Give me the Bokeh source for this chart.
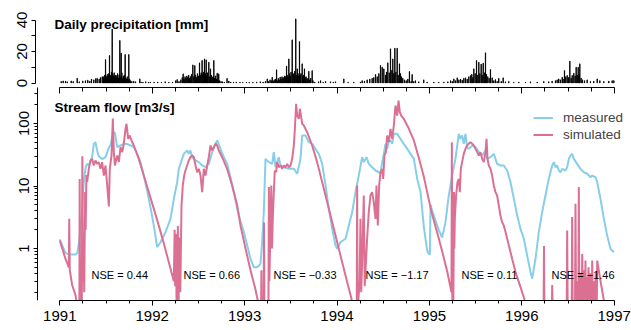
from bokeh.plotting import figure
from bokeh.models import (ColumnDataSource, Range1d, LinearAxis, FixedTicker,
                          BasicTickFormatter, Legend, LegendItem, Label, LinearScale)
from bokeh.core.properties import value
from bokeh.embed import file_html
from bokeh.resources import INLINE

# ---------------- data ----------------
year_ticks = [1991, 1992, 1993, 1994, 1995, 1996, 1997]
flow_ticks = [1, 10, 100]
precip_ticks = [0, 10, 20, 30, 40]

precip_year = [
    1991.015, 1991.036, 1991.062, 1991.080, 1991.123, 1991.145, 1991.188, 1991.210, 1991.249, 1991.278,
    1991.303, 1991.325, 1991.343, 1991.368, 1991.389, 1991.404, 1991.426, 1991.440, 1991.459, 1991.470,
    1991.478, 1991.486, 1991.495, 1991.500, 1991.508, 1991.515, 1991.522, 1991.530, 1991.538, 1991.545,
    1991.552, 1991.560, 1991.567, 1991.574, 1991.580, 1991.588, 1991.595, 1991.603, 1991.610, 1991.618,
    1991.626, 1991.634, 1991.642, 1991.650, 1991.657, 1991.664, 1991.672, 1991.680, 1991.688, 1991.695,
    1991.700, 1991.707, 1991.715, 1991.722, 1991.730, 1991.738, 1991.747, 1991.755, 1991.765, 1991.780,
    1991.800, 1991.820, 1991.866, 1991.880, 1991.900, 1991.930, 1991.960, 1991.980,
    1992.020, 1992.060, 1992.100, 1992.140, 1992.180, 1992.220, 1992.255, 1992.270, 1992.290, 1992.310,
    1992.325, 1992.335, 1992.345, 1992.355, 1992.365, 1992.375, 1992.385, 1992.395, 1992.405, 1992.415,
    1992.425, 1992.440, 1992.450, 1992.461, 1992.470, 1992.480, 1992.490, 1992.500, 1992.512, 1992.520,
    1992.530, 1992.540, 1992.550, 1992.558, 1992.566, 1992.575, 1992.584, 1992.592, 1992.600, 1992.613,
    1992.620, 1992.631, 1992.640, 1992.650, 1992.658, 1992.667, 1992.675, 1992.685, 1992.695, 1992.703,
    1992.712, 1992.720, 1992.730, 1992.745, 1992.760, 1992.780, 1992.810, 1992.830, 1992.850, 1992.880,
    1992.910, 1992.950, 1992.980,
    1993.020, 1993.050, 1993.090, 1993.130, 1993.170, 1993.200, 1993.225, 1993.245, 1993.260, 1993.275,
    1993.290, 1993.299, 1993.310, 1993.320, 1993.333, 1993.346, 1993.355, 1993.365, 1993.375, 1993.385,
    1993.395, 1993.405, 1993.415, 1993.425, 1993.435, 1993.445, 1993.454, 1993.460, 1993.470, 1993.479,
    1993.487, 1993.495, 1993.503, 1993.515, 1993.525, 1993.535, 1993.543, 1993.554, 1993.562, 1993.570,
    1993.578, 1993.586, 1993.594, 1993.602, 1993.610, 1993.623, 1993.630, 1993.638, 1993.648, 1993.656,
    1993.665, 1993.675, 1993.685, 1993.695, 1993.705, 1993.715, 1993.731, 1993.740, 1993.760, 1993.800,
    1993.822, 1993.850, 1993.876, 1993.930, 1993.960, 1993.984,
    1994.074, 1994.120, 1994.182, 1994.254, 1994.272, 1994.297, 1994.326, 1994.355, 1994.380, 1994.398,
    1994.417, 1994.435, 1994.453, 1994.471, 1994.489, 1994.507, 1994.525, 1994.536, 1994.550, 1994.565,
    1994.579, 1994.594, 1994.604, 1994.615, 1994.626, 1994.637, 1994.651, 1994.662, 1994.676, 1994.687,
    1994.698, 1994.712, 1994.731, 1994.749, 1994.767, 1994.784, 1994.802, 1994.813, 1994.831, 1994.849,
    1994.885, 1994.939, 1994.975,
    1995.048, 1995.102, 1995.157, 1995.200, 1995.229, 1995.247, 1995.265, 1995.283, 1995.301, 1995.319,
    1995.337, 1995.355, 1995.373, 1995.391, 1995.409, 1995.427, 1995.445, 1995.459, 1995.470, 1995.481,
    1995.495, 1995.510, 1995.524, 1995.535, 1995.546, 1995.560, 1995.571, 1995.582, 1995.596, 1995.607,
    1995.618, 1995.632, 1995.647, 1995.661, 1995.679, 1995.697, 1995.715, 1995.733, 1995.751, 1995.777,
    1995.798, 1995.823, 1995.859, 1995.913, 1995.968,
    1996.040, 1996.094, 1996.166, 1996.238, 1996.292, 1996.328, 1996.364, 1996.382, 1996.400, 1996.418,
    1996.437, 1996.447, 1996.462, 1996.476, 1996.491, 1996.505, 1996.520, 1996.534, 1996.545, 1996.563,
    1996.577, 1996.588, 1996.599, 1996.610, 1996.621, 1996.628, 1996.642, 1996.657, 1996.679, 1996.707,
    1996.743, 1996.779, 1996.816, 1996.845, 1996.888, 1996.942, 1996.978, 1996.996,
]
precip_mm = [
    1.0, 1.3, 1.2, 0.8, 1.3, 1.0, 3.0, 0.8, 1.3, 1.5,
    1.8, 1.2, 2.5, 2.0, 2.8, 3.0, 2.5, 3.5, 4.0, 4.0,
    3.0, 5.0, 14.9, 4.5, 3.8, 5.5, 4.2, 6.0, 17.5, 5.0,
    4.0, 7.0, 34.2, 5.5, 4.5, 6.5, 4.0, 5.0, 3.5, 4.8,
    6.0, 3.2, 5.0, 27.0, 4.0, 19.0, 6.5, 3.0, 4.5, 3.5,
    5.0, 18.1, 3.0, 2.5, 4.0, 2.0, 18.1, 2.5, 1.5, 1.0,
    1.2, 0.8, 2.6, 0.6, 0.5, 0.8, 0.5, 0.6,
    0.5, 0.6, 0.4, 0.8, 0.5, 0.6, 1.5, 2.2, 1.0, 2.0,
    3.5, 5.8, 2.5, 4.0, 3.0, 4.5, 3.5, 5.0, 3.0, 4.0,
    5.5, 11.5, 4.0, 11.1, 5.0, 3.5, 6.0, 4.5, 12.8, 5.0,
    6.5, 14.3, 5.5, 7.0, 15.3, 6.0, 14.7, 5.0, 6.5, 13.2,
    4.0, 9.0, 5.0, 3.5, 4.0, 14.3, 3.0, 4.5, 2.5, 6.2,
    2.0, 5.8, 1.5, 1.0, 0.8, 0.5, 2.9, 1.2, 0.6, 0.5,
    0.6, 0.5, 0.4,
    0.4, 0.5, 0.5, 0.6, 0.8, 0.6, 1.0, 2.6, 1.0, 2.0,
    1.5, 3.7, 1.2, 2.0, 2.5, 8.4, 1.5, 3.0, 2.0, 3.8,
    2.5, 4.0, 3.0, 3.5, 4.5, 4.0, 10.7, 5.0, 4.0, 15.3,
    6.0, 4.5, 7.0, 27.4, 6.0, 5.5, 7.5, 40.7, 5.0, 9.0,
    6.0, 4.5, 26.3, 5.0, 6.0, 12.2, 4.0, 5.0, 9.0, 3.5,
    4.0, 2.5, 3.0, 7.5, 2.0, 3.0, 7.9, 1.5, 0.6, 0.8,
    1.5, 0.5, 1.0, 0.8, 0.5, 0.8,
    2.6, 0.5, 0.5, 0.6, 1.5, 1.2, 2.0, 2.5, 3.0, 3.5,
    5.4, 4.0, 6.0, 11.1, 10.0, 9.0, 5.0, 7.0, 12.8, 6.5,
    21.7, 8.0, 15.3, 6.0, 22.1, 7.0, 22.1, 5.0, 12.2, 6.0,
    4.0, 3.0, 2.0, 1.5, 2.5, 7.3, 1.0, 5.4, 1.0, 1.5,
    0.8, 2.0, 0.6,
    0.6, 0.5, 0.6, 0.8, 1.5, 1.0, 2.6, 1.5, 3.3, 2.0,
    2.5, 1.8, 3.0, 3.3, 2.5, 4.0, 4.8, 5.5, 3.5, 9.0,
    6.0, 14.3, 5.0, 13.2, 6.0, 12.0, 5.0, 12.6, 6.5, 19.2,
    5.5, 4.0, 3.0, 8.6, 3.3, 1.5, 2.2, 1.0, 3.0, 1.0,
    3.3, 0.8, 1.0, 0.5, 0.6,
    0.5, 0.8, 0.6, 1.0, 0.8, 1.2, 1.5, 2.0, 2.6, 2.0,
    3.7, 2.5, 7.9, 4.0, 4.8, 3.5, 13.9, 3.0, 4.8, 6.2,
    4.5, 10.0, 5.0, 10.0, 5.5, 12.2, 3.0, 2.0, 1.5, 2.0,
    1.0, 1.2, 2.6, 1.5, 1.0, 1.2, 1.5, 1.5,
]

meas_year = [
    1991.000, 1991.060, 1991.100, 1991.170, 1991.190, 1991.210, 1991.240, 1991.260, 1991.280, 1991.296,
    1991.314, 1991.350, 1991.368, 1991.386, 1991.404, 1991.422, 1991.458, 1991.495, 1991.531, 1991.549,
    1991.574, 1991.596, 1991.621, 1991.657, 1991.693, 1991.729, 1991.765, 1991.801, 1991.837, 1991.873,
    1991.909, 1991.945, 1991.981, 1992.018, 1992.054, 1992.090, 1992.144, 1992.198, 1992.234, 1992.270,
    1992.288, 1992.324, 1992.342, 1992.378, 1992.396, 1992.414, 1992.433, 1992.469, 1992.505, 1992.541,
    1992.577, 1992.613, 1992.649, 1992.685, 1992.703, 1992.739, 1992.775, 1992.811, 1992.847, 1992.883,
    1992.920, 1992.956, 1992.992, 1993.028, 1993.064, 1993.100, 1993.136, 1993.172, 1993.190, 1993.208,
    1993.226, 1993.262, 1993.298, 1993.316, 1993.334, 1993.370, 1993.389, 1993.425, 1993.479, 1993.533,
    1993.569, 1993.605, 1993.623, 1993.659, 1993.695, 1993.731, 1993.767, 1993.803, 1993.840, 1993.876,
    1993.912, 1993.948, 1993.984, 1994.002, 1994.038, 1994.092, 1994.128, 1994.164, 1994.200, 1994.236,
    1994.272, 1994.290, 1994.319, 1994.344, 1994.380, 1994.417, 1994.453, 1994.471, 1994.489, 1994.507,
    1994.525, 1994.543, 1994.561, 1994.579, 1994.597, 1994.615, 1994.651, 1994.687, 1994.723, 1994.760,
    1994.796, 1994.832, 1994.868, 1994.904, 1994.940, 1994.976, 1994.994, 1995.005, 1995.012, 1995.030,
    1995.066, 1995.100, 1995.138, 1995.174, 1995.210, 1995.246, 1995.282, 1995.318, 1995.336, 1995.354,
    1995.372, 1995.390, 1995.408, 1995.426, 1995.463, 1995.499, 1995.535, 1995.571, 1995.607, 1995.625,
    1995.661, 1995.697, 1995.733, 1995.769, 1995.805, 1995.842, 1995.878, 1995.914, 1995.950, 1995.986,
    1996.022, 1996.058, 1996.094, 1996.112, 1996.148, 1996.184, 1996.220, 1996.256, 1996.292, 1996.329,
    1996.347, 1996.365, 1996.383, 1996.401, 1996.419, 1996.437, 1996.473, 1996.491, 1996.509, 1996.527,
    1996.545, 1996.563, 1996.599, 1996.635, 1996.671, 1996.708, 1996.744, 1996.762, 1996.798, 1996.816,
    1996.852, 1996.888, 1996.924, 1996.960, 1996.996,
]
meas_flow = [
    1.40, 0.85, 0.80, 0.80, 0.85, 1.30, 3.8, 12.0, 20.0, 22.6,
    21.3, 28.9, 47.0, 50.0, 37.0, 30.0, 27.0, 29.0, 41.0, 45.0,
    68.0, 72.0, 41.8, 44.5, 47.0, 47.0, 44.5, 41.8, 32.7, 24.0,
    14.7, 8.5, 4.6, 2.3, 1.05, 1.26, 1.83, 2.98, 6.2, 11.5,
    18.8, 27.2, 32.7, 37.0, 32.7, 37.0, 28.9, 25.6, 24.1, 21.3,
    20.0, 22.6, 34.8, 47.3, 53.5, 39.3, 28.9, 22.6, 13.8, 8.0,
    4.3, 2.7, 1.83, 1.12, 0.68, 0.50, 0.50, 0.57, 1.26, 3.8,
    27.2, 24.1, 22.6, 34.8, 20.0, 28.9, 21.3, 20.0, 18.8, 18.8,
    15.7, 27.2, 64.3, 64.3, 50.3, 47.3, 39.3, 32.7, 22.6, 10.2,
    4.3, 2.06, 1.12, 0.99, 1.26, 1.43, 2.33, 3.8, 8.0, 14.7,
    28.9, 24.1, 28.9, 22.6, 20.0, 17.7, 16.6, 15.7, 24.1, 32.7,
    47.3, 39.3, 53.5, 53.5, 47.3, 68.3, 68.3, 56.8, 47.3, 39.3,
    32.7, 27.2, 13.0, 8.0, 2.2, 0.93, 0.82, 0.80, 5.0, 4.0,
    2.8, 2.0, 1.5, 2.64, 7.05, 14.7, 27.2, 68.3, 56.8, 64.3,
    47.3, 68.3, 41.8, 39.3, 44.5, 41.8, 34.8, 30.8, 37.0, 27.2,
    28.9, 32.7, 22.6, 21.3, 21.3, 17.7, 11.5, 6.23, 3.37, 2.06,
    1.43, 0.77, 0.42, 0.33, 0.68, 1.83, 3.81, 7.05, 13.0, 21.3,
    24.1, 20.0, 21.3, 17.7, 16.6, 18.8, 17.7, 20.0, 27.2, 30.8,
    32.7, 27.2, 22.6, 18.8, 16.6, 15.7, 13.8, 14.7, 13.8, 11.5,
    6.2, 2.98, 1.61, 0.99, 0.87,
]

sim_year = [
    1991.000, 1991.062, 1991.098, 1991.102, 1991.108, 1991.134, 1991.170, 1991.195, 1991.212, 1991.215,
    1991.220, 1991.238, 1991.244, 1991.250, 1991.258, 1991.264, 1991.274, 1991.280, 1991.288, 1991.296,
    1991.314, 1991.332, 1991.350, 1991.368, 1991.386, 1991.404, 1991.422, 1991.440, 1991.458, 1991.477,
    1991.495, 1991.513, 1991.531, 1991.541, 1991.560, 1991.574, 1991.585, 1991.596, 1991.621, 1991.639,
    1991.657, 1991.675, 1991.693, 1991.711, 1991.722, 1991.740, 1991.754, 1991.776, 1991.801, 1991.855,
    1991.909, 1991.963, 1992.018, 1992.072, 1992.126, 1992.180, 1992.234, 1992.243, 1992.248, 1992.258,
    1992.263, 1992.270, 1992.278, 1992.284, 1992.298, 1992.304, 1992.317, 1992.331, 1992.346, 1992.360,
    1992.378, 1992.396, 1992.414, 1992.433, 1992.451, 1992.469, 1992.487, 1992.505, 1992.523, 1992.541,
    1992.559, 1992.577, 1992.595, 1992.613, 1992.631, 1992.649, 1992.667, 1992.685, 1992.703, 1992.721,
    1992.757, 1992.811, 1992.865, 1992.920, 1992.956, 1993.010, 1993.064, 1993.118, 1993.150, 1993.165,
    1993.178, 1993.182, 1993.186, 1993.206, 1993.210, 1993.215, 1993.258, 1993.263, 1993.268, 1993.289,
    1993.297, 1993.305, 1993.316, 1993.327, 1993.342, 1993.352, 1993.370, 1993.389, 1993.407, 1993.425,
    1993.443, 1993.461, 1993.479, 1993.497, 1993.515, 1993.533, 1993.544, 1993.558, 1993.569, 1993.587,
    1993.598, 1993.613, 1993.623, 1993.641, 1993.677, 1993.731, 1993.785, 1993.840, 1993.894, 1993.948,
    1994.002, 1994.056, 1994.110, 1994.157, 1994.170, 1994.214, 1994.218, 1994.223, 1994.245, 1994.254,
    1994.262, 1994.272, 1994.290, 1994.300, 1994.319, 1994.326, 1994.344, 1994.362, 1994.380, 1994.398,
    1994.417, 1994.427, 1994.442, 1994.456, 1994.471, 1994.489, 1994.500, 1994.514, 1994.529, 1994.543,
    1994.561, 1994.579, 1994.597, 1994.615, 1994.633, 1994.651, 1994.666, 1994.680, 1994.695, 1994.723,
    1994.778, 1994.832, 1994.886, 1994.940, 1994.994, 1995.030, 1995.084, 1995.138, 1995.194, 1995.239,
    1995.243, 1995.248, 1995.254, 1995.259, 1995.266, 1995.270, 1995.275, 1995.289, 1995.304, 1995.318,
    1995.329, 1995.340, 1995.354, 1995.372, 1995.390, 1995.408, 1995.426, 1995.444, 1995.463, 1995.481,
    1995.499, 1995.517, 1995.535, 1995.553, 1995.571, 1995.589, 1995.607, 1995.618, 1995.629, 1995.643,
    1995.661, 1995.679, 1995.697, 1995.715, 1995.733, 1995.751, 1995.769, 1995.787, 1995.805, 1995.824,
    1995.842, 1995.860, 1995.896, 1995.932, 1995.968, 1996.004, 1996.033, 1996.045, 1996.236, 1996.240,
    1996.245, 1996.325, 1996.329, 1996.334, 1996.486, 1996.491, 1996.497, 1996.540, 1996.545, 1996.551,
    1996.576, 1996.581, 1996.587, 1996.600, 1996.606, 1996.612, 1996.617, 1996.623, 1996.632, 1996.638,
    1996.648, 1996.654, 1996.660, 1996.670, 1996.676, 1996.684, 1996.689, 1996.694, 1996.705, 1996.712,
    1996.722, 1996.728, 1996.740, 1996.746, 1996.757, 1996.762, 1996.768, 1996.780, 1996.787, 1996.800,
    1996.806, 1996.812, 1996.816, 1996.852, 1996.888, 1996.900,
]
sim_flow = [
    1.34, 0.68, 0.50, 3.0, 0.45, 0.26, 0.18, 0.10, 0.10, 13.0,
    0.10, 0.10, 30.0, 0.30, 1.5, 0.20, 8.0, 2.0, 15.0, 11.5,
    18.8, 25.6, 27.2, 21.3, 25.6, 22.6, 24.1, 18.8, 24.1, 14.7,
    21.3, 10.2, 4.7, 18.8, 30.8, 120.0, 34.8, 21.3, 30.8, 24.1,
    41.8, 34.8, 47.3, 82.2, 98.8, 56.8, 64.3, 53.5, 44.5, 27.2,
    14.7, 8.0, 4.3, 2.3, 1.2, 0.60, 0.30, 2.0, 0.25, 1.7,
    0.16, 0.12, 2.3, 0.10, 1.5, 0.20, 4.87, 10.2, 14.7, 17.7,
    21.3, 25.6, 28.9, 30.8, 28.9, 21.3, 16.6, 18.8, 14.7, 8.0,
    18.8, 14.7, 21.3, 28.9, 44.5, 37.0, 41.8, 47.3, 44.5, 37.0,
    28.9, 18.8, 10.2, 4.9, 2.3, 1.0, 0.45, 0.22, 0.13, 0.10,
    0.10, 0.45, 0.10, 0.10, 2.6, 0.10, 0.10, 9.6, 0.30, 10.2,
    1.0, 3.0, 8.0, 17.7, 16.6, 24.1, 20.0, 21.3, 18.8, 21.3,
    20.0, 22.6, 20.0, 21.3, 27.2, 44.5, 82.2, 206.0, 134.0, 119.0,
    172.0, 126.0, 98.8, 92.9, 72.6, 44.5, 24.1, 11.5, 5.5, 2.64,
    1.26, 0.60, 0.29, 0.157, 0.10, 0.10, 10.2, 0.10, 0.30, 3.0,
    0.20, 0.60, 7.05, 0.25, 0.90, 1.43, 3.81, 7.05, 7.97, 5.5,
    2.98, 10.2, 2.33, 10.2, 16.6, 18.8, 13.0, 30.8, 34.8, 64.3,
    50.3, 82.2, 56.8, 92.9, 194.0, 134.0, 233.0, 152.0, 134.0, 119.0,
    82.2, 53.5, 28.0, 14.0, 6.0, 3.5, 1.8, 0.90, 0.42, 0.20,
    50.0, 0.10, 3.0, 0.10, 8.0, 1.0, 2.98, 7.05, 11.5, 13.0,
    7.97, 18.8, 24.1, 32.7, 39.3, 44.5, 47.3, 50.3, 47.3, 44.5,
    39.3, 34.8, 30.8, 34.8, 27.2, 24.1, 34.8, 56.8, 27.2, 21.3,
    18.8, 14.7, 10.2, 7.97, 7.05, 4.87, 3.37, 2.64, 2.33, 1.83,
    1.43, 1.12, 0.68, 0.42, 0.29, 0.20, 0.147, 0.10, 0.10, 1.1,
    0.10, 0.10, 0.26, 0.10, 0.10, 1.94, 0.10, 0.10, 3.2, 0.10,
    0.10, 5.2, 0.12, 0.30, 0.12, 0.10, 9.6, 0.15, 0.40, 0.12,
    0.10, 0.82, 0.15, 0.45, 0.12, 0.12, 0.64, 0.12, 0.35, 0.12,
    0.50, 0.15, 0.40, 0.12, 0.12, 0.64, 0.12, 0.30, 0.12, 0.40,
    0.12, 0.15, 0.64, 0.30, 0.147, 0.10,
]

nse_text = ["NSE = 0.44", "NSE = 0.66", "NSE = \u22120.33",
            "NSE = \u22121.17", "NSE = 0.11", "NSE = \u22121.46"]
nse_year = [1991.343, 1992.339, 1993.313, 1994.309, 1995.348, 1996.322]

# ---------------- layout / style ----------------
FONT = "Liberation Sans"
BLUE = "#87CEEB"
PINK = "#DB7093"

W, FRAME_H, BOTTOM = 631, 300, 30
X0_PX, PX_YR = 59.3, 92.4          # page column of 1991, pixels per year
Y1_PX, DEC = 248.0, 62.5           # page row of flow = 1, pixels per decade
P0_PX, MM_PX = 82.5, 1.575         # page row of 0 mm, pixels per mm


def year_at(px):
    return 1991 + (px - X0_PX) / PX_YR


def flow_at(py):
    return 10 ** ((Y1_PX - py) / DEC)


def mm_at(py):
    return (P0_PX - py) / MM_PX


quarter_ticks = [y + q for y in year_ticks[:-1] for q in (0.25, 0.5, 0.75)]
flow_minor = [m * 10.0 ** e for e in (-1, 0, 1) for m in range(2, 10)] + [200, 300]

p = figure(frame_width=W, frame_height=FRAME_H,
           min_border_left=0, min_border_right=0, min_border_top=0,
           min_border_bottom=BOTTOM,
           x_range=Range1d(year_at(0), year_at(W)),
           y_range=Range1d(flow_at(FRAME_H), flow_at(0)),
           y_axis_type="log", output_backend="svg", toolbar_location=None,
           background_fill_color="white", border_fill_color="white")
p.xgrid.visible = False
p.ygrid.visible = False
p.outline_line_color = None

# bottom (time) axis
xa = p.xaxis[0]
xa.ticker = FixedTicker(ticks=year_ticks, minor_ticks=quarter_ticks)
xa.formatter = BasicTickFormatter(use_scientific=False)
xa.bounds = (1991, 1997)
xa.major_tick_in = 0
xa.major_tick_out = 5
xa.minor_tick_in = 0
xa.minor_tick_out = 3
xa.major_label_standoff = 5
xa.major_label_text_font = FONT
xa.major_label_text_font_size = "15px"
xa.major_label_text_color = "black"
xa.axis_line_color = "black"
xa.major_tick_line_color = "black"
xa.minor_tick_line_color = "black"

# log flow axis (drawn inside the frame at a fixed column)
ya = p.yaxis[0]
ya.ticker = FixedTicker(ticks=flow_ticks, minor_ticks=flow_minor)
ya.formatter = BasicTickFormatter(use_scientific=False)
ya.bounds = (flow_at(FRAME_H), flow_at(87.3))
ya.fixed_location = year_at(37)
ya.major_tick_in = 0
ya.major_tick_out = 4
ya.minor_tick_in = 0
ya.minor_tick_out = 3
ya.major_label_standoff = 5
ya.major_label_orientation = "parallel"
ya.major_label_text_font = FONT
ya.major_label_text_font_size = "15px"
ya.major_label_text_color = "black"
ya.axis_line_color = "black"
ya.major_tick_line_color = "black"
ya.minor_tick_line_color = "black"

# precipitation panel range + axes
p.extra_y_ranges = {"precip": Range1d(mm_at(FRAME_H), mm_at(0))}
p.extra_y_scales = {"precip": LinearScale()}

pa = LinearAxis(y_range_name="precip",
                ticker=FixedTicker(ticks=precip_ticks),
                major_label_overrides={10: "", 30: ""},
                bounds=(0, 40), fixed_location=year_at(35),
                major_tick_in=0, major_tick_out=4, minor_tick_out=0, minor_tick_in=0,
                major_label_standoff=5, major_label_orientation="parallel",
                major_label_text_font=FONT, major_label_text_font_size="15px",
                major_label_text_color="black", axis_line_color="black",
                major_tick_line_color="black")
p.add_layout(pa, "left")

pxa = LinearAxis(ticker=FixedTicker(ticks=year_ticks, minor_ticks=quarter_ticks),
                 bounds=(1991, 1997), fixed_location=flow_at(87.3),
                 major_tick_in=0, major_tick_out=6, minor_tick_in=0, minor_tick_out=4,
                 major_label_text_alpha=0, major_label_text_font_size="1px",
                 axis_line_color="black", major_tick_line_color="black",
                 minor_tick_line_color="black")
p.add_layout(pxa, "below")

# ---------------- glyphs ----------------
psrc = ColumnDataSource(dict(x=precip_year, top=precip_mm))
p.vbar(x="x", top="top", bottom=0, width=1 / 365.25, source=psrc,
       y_range_name="precip", fill_color="black", line_color="black", line_width=0.9)

r_meas = p.line(meas_year, meas_flow, line_color=BLUE, line_width=2)
r_sim = p.line(sim_year, sim_flow, line_color=PINK, line_width=2)

nsrc = ColumnDataSource(dict(x=nse_year, y=[flow_at(274)] * len(nse_year), t=nse_text))
p.text(x="x", y="y", text="t", source=nsrc, text_font=value(FONT),
       text_font_size="11px", text_baseline="middle", text_align="left",
       text_color="black")

p.add_layout(Label(x=year_at(54), y=flow_at(24), text="Daily precipitation [mm]",
                   text_font=FONT, text_font_style="bold", text_font_size="13.5px",
                   text_baseline="middle", text_color="black"))
p.add_layout(Label(x=year_at(54), y=flow_at(107), text="Stream flow [m3/s]",
                   text_font=FONT, text_font_style="bold", text_font_size="13.5px",
                   text_baseline="middle", text_color="black"))

legend = Legend(items=[LegendItem(label="measured", renderers=[r_meas]),
                       LegendItem(label="simulated", renderers=[r_sim])],
                location=(533, 157), orientation="vertical",
                border_line_color=None, background_fill_alpha=0,
                padding=0, margin=0, spacing=0,
                glyph_width=20, glyph_height=17, label_height=17,
                label_standoff=10, label_text_font=FONT,
                label_text_font_size="13.5px")
p.add_layout(legend)

open("out.html", "w").write(file_html(p, INLINE))
